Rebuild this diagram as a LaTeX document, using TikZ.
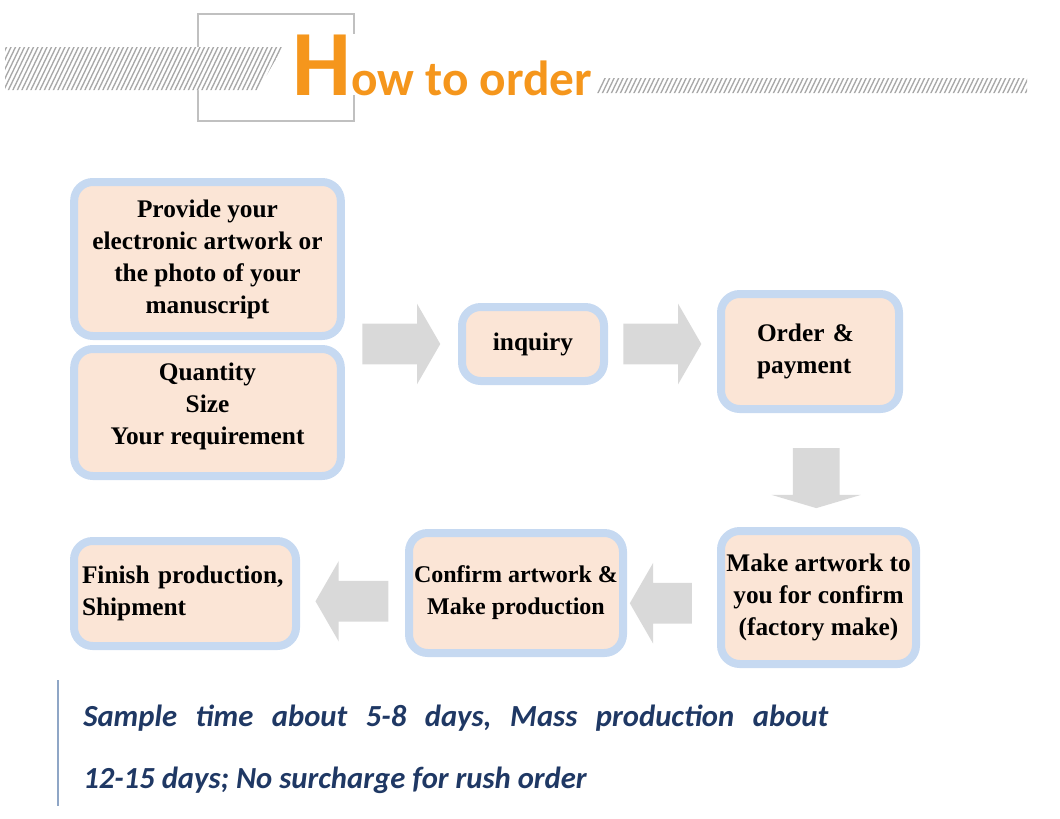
\documentclass[tikz,border=0pt]{standalone}
\usepackage{fontspec}
\setmainfont{Liberation Serif}
\newfontfamily\calfont{Carlito}
\usetikzlibrary{shapes.arrows, calc}
\definecolor{peach}{HTML}{FBE5D6}
\definecolor{paleblue}{HTML}{C6D9F1}
\definecolor{arrowgray}{HTML}{D9D9D9}
\definecolor{titleorange}{HTML}{F5961C}
\definecolor{titlegray}{HTML}{C0C0C0}
\definecolor{hatchgray}{HTML}{A8A8A8}
\definecolor{navytext}{HTML}{1F3864}
\definecolor{rulegray}{HTML}{8FA6C6}

\begin{document}
\begin{tikzpicture}[
            x=0.75pt, y=-0.75pt,
            box/.style={rectangle, draw=paleblue, fill=peach, line width=6pt,
                        rounded corners=14pt, align=center, inner sep=3pt,
                        font=\bfseries\fontsize{19}{24}\selectfont},
            flow/.style={single arrow, fill=arrowgray, inner xsep=0pt, inner ysep=15pt,
                         single arrow head extend=15pt, single arrow tip angle=120,
                         single arrow head indent=0pt},
            note/.style={anchor=base west, inner sep=0pt, text=navytext,
                         font=\calfont\bfseries\itshape\fontsize{23}{26}\selectfont\frenchspacing}
        ]
            \useasboundingbox (0,0) rectangle (1060,818);

            \draw[titlegray, line width=1.2pt] (198,14) rectangle (354,121);
            \begin{scope}
                \clip (5,47) -- (283,47) -- (258,90) -- (5,90) -- cycle;
                \fill[white] (0,40) rectangle (300,95);
                \foreach \i in {-30,-25.5,...,300}
                    \draw[hatchgray, line width=1pt] (\i,95) -- ++(24,-50);
            \end{scope}
            \begin{scope}
                \clip (603,78) -- (1027,78) -- (1027,93) -- (597,93) -- cycle;
                \foreach \i in {570,574.5,...,1040}
                    \draw[hatchgray, line width=1pt] (\i,95) -- ++(24,-50);
            \end{scope}
            \node[anchor=base west, inner sep=0pt, fill=white, text=titleorange,
                  font=\calfont\bfseries] (title) at (292,95)
                  {\fontsize{70}{70}\selectfont H\fontsize{37}{37}\selectfont ow to order};

            \node[box, minimum width=200pt, minimum height=115.5pt] (prov) at (207.5,259)
                  {Provide your\\electronic artwork or\\the photo of your\\manuscript};
            \node[box, minimum width=200pt, minimum height=95.25pt, text depth=13pt] (qty)
                  at (207.5,412.5) {Quantity\\Size\\Your requirement};
            \node[box, minimum width=106.5pt, minimum height=55.5pt] (inq) at (533,344) {inquiry};
            \node[box, minimum width=133.5pt, minimum height=86.25pt, align=left,
                  text width=79.5pt, inner xsep=27pt] (ord) at (810,351.5) {Order \&\\payment};
            \node[box, minimum width=146.25pt, minimum height=99.75pt] (mk) at (818.5,597.5)
                  {Make artwork to\\you for confirm\\(factory make)};
            \node[box, minimum width=160.5pt, minimum height=90pt,
                  font=\bfseries\fontsize{18}{24}\selectfont] (conf) at (516,593)
                  {Confirm artwork \&\\Make production};
            \node[box, minimum width=166.5pt, minimum height=78.75pt, align=left,
                  text width=154.5pt, inner xsep=6pt] (fin) at (185,593.5)
                  {Finish production,\\Shipment};

            \node[flow, minimum height=58.5pt, xshift=-4.5pt] (a1)
                  at ($(prov.east |- inq)!0.5!(inq.west)$) {};
            \node[flow, minimum height=58.5pt, xshift=-4.5pt] (a2)
                  at ($(inq.east)!0.5!(ord.west |- inq)$) {};
            \node[flow, minimum height=45pt, shape border rotate=270, inner xsep=17.25pt,
                  inner ysep=0pt, single arrow head extend=16pt, single arrow tip angle=147,
                  xshift=1.5pt, yshift=-3.5pt] (a3) at ($(ord.south)!0.5!(mk.north)$) {};
            \node[flow, minimum height=46.5pt, shape border rotate=180,
                  xshift=-4pt, yshift=-6pt] (a4) at ($(conf.east)!0.5!(mk.west)$) {};
            \node[flow, minimum height=54.75pt, shape border rotate=180,
                  xshift=4pt, yshift=-6pt] (a5) at ($(fin.east)!0.5!(conf.west)$) {};

            \draw[rulegray, line width=1.5pt] (58,680) -- (58,806);
            \node[note] (note1) at (83,726)
                  {\makebox[558.75pt][s]{Sample time about 5-8 days, Mass production about}};
            \node[note] (note2) at (83,788) {12-15 days; No surcharge for rush order};
        \end{tikzpicture}
\end{document}
